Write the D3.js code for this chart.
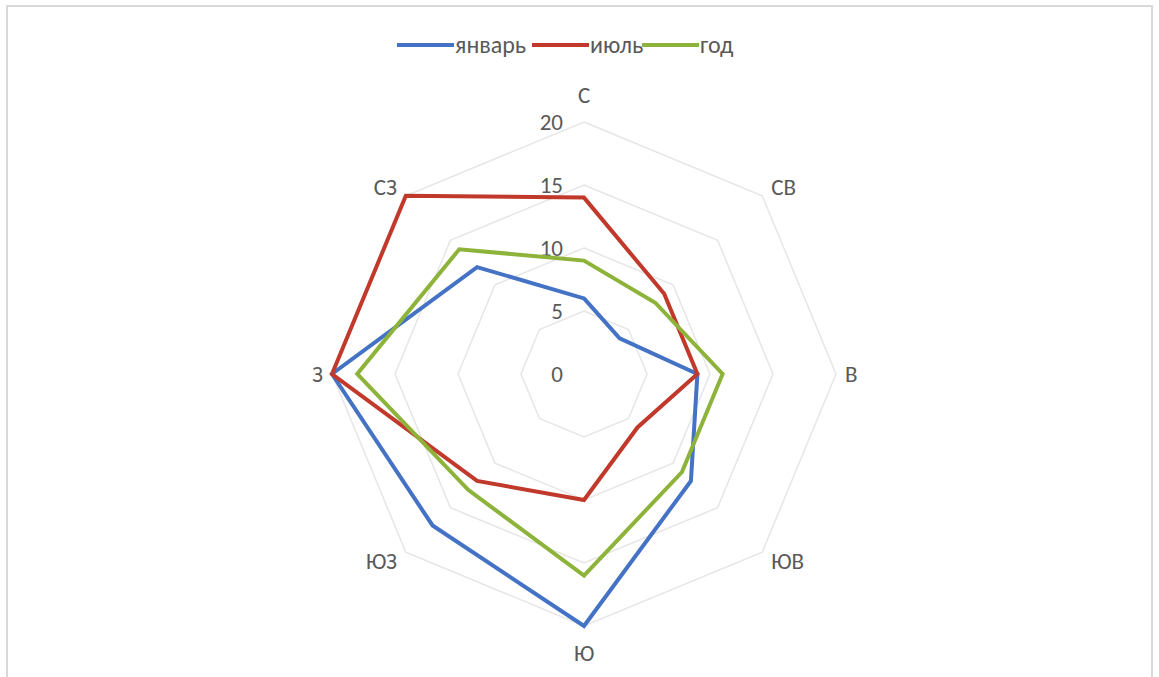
<!DOCTYPE html>
<html>
<head>
<meta charset="utf-8">
<script src="https://cdn.jsdelivr.net/npm/d3@7"></script>
<style>
  body { margin: 0; background: #fff; }
  svg { display: block; font-family: Carlito, Calibri, "Open Sans", "Noto Sans", sans-serif; }
</style>
</head>
<body>
<div id="chart"></div>
<script>
// directions (rumbs) clockwise from north
const directions = ["С", "СВ", "В", "ЮВ", "Ю", "ЮЗ", "З", "СЗ"];
const seriesNames = ["январь", "июль", "год"];
const seriesColors = ["#4472c4", "#c0392b", "#8db33a"];
const january = [6, 4, 9, 12, 20, 17, 20, 12];
const july = [14, 9, 9, 6, 10, 12, 20, 20];
const year = [9, 8, 11, 11, 16, 13, 18, 14];
const gridTicks = [0, 5, 10, 15, 20];

const W = 1159, H = 677;
const cx = 584, cy = 374, R = 252;

const svg = d3.select("#chart").append("svg")
    .attr("width", W)
    .attr("height", H);

// outer frame
svg.append("rect")
    .attr("x", 7).attr("y", 6)
    .attr("width", 1145).attr("height", 690)
    .attr("fill", "#fff")
    .attr("stroke", "#d9d9d9")
    .attr("stroke-width", 2);

const r = d3.scaleLinear().domain([0, 20]).range([0, R]);
const angle = d3.scaleLinear().domain([0, directions.length]).range([0, 2 * Math.PI]);

const g = svg.append("g").attr("transform", `translate(${cx},${cy})`);

// octagon grid rings
const ring = d3.lineRadial()
    .angle((d, i) => angle(i))
    .radius(d => r(d))
    .curve(d3.curveLinearClosed);

g.selectAll("path.grid")
    .data(gridTicks.filter(t => t > 0))
    .join("path")
    .attr("class", "grid")
    .attr("d", t => ring(directions.map(() => t)))
    .attr("fill", "none")
    .attr("stroke", "#e6e6e6")
    .attr("stroke-width", 1.5);

// value axis labels
g.selectAll("text.tick")
    .data(gridTicks)
    .join("text")
    .attr("class", "tick")
    .attr("x", -21)
    .attr("y", t => -r(t))
    .attr("dy", "0.35em")
    .attr("text-anchor", "end")
    .attr("font-size", 23)
    .attr("fill", "#595959")
    .text(t => t);

// direction labels
const sinA = i => Math.sin(angle(i));
const cosA = i => Math.cos(angle(i));
g.selectAll("text.dir")
    .data(directions)
    .join("text")
    .attr("class", "dir")
    .attr("x", (d, i) => sinA(i) * R + (Math.abs(sinA(i)) > 0.1 ? Math.sign(sinA(i)) * 9 : 0))
    .attr("y", (d, i) => -cosA(i) * R - (Math.abs(cosA(i)) > 0.1 ? Math.sign(cosA(i)) * (Math.abs(cosA(i)) > 0.9 ? 27 : 9) : 0))
    .attr("dy", "0.35em")
    .attr("text-anchor", (d, i) => sinA(i) > 0.1 ? "start" : sinA(i) < -0.1 ? "end" : "middle")
    .attr("font-size", 23)
    .attr("fill", "#595959")
    .text(d => d);

// series lines
const seriesData = [january, july, year];
const line = d3.lineRadial()
    .angle((d, i) => angle(i))
    .radius(d => r(d))
    .curve(d3.curveLinearClosed);

g.selectAll("path.series")
    .data(seriesData)
    .join("path")
    .attr("class", "series")
    .attr("d", d => line(d))
    .attr("fill", "none")
    .attr("stroke", (d, i) => seriesColors[i])
    .attr("stroke-width", 4)
    .attr("stroke-linejoin", "miter");

// legend
const legendX = [397, 532, 642];
const legend = svg.append("g").attr("transform", "translate(0,45)");
const items = legend.selectAll("g")
    .data(seriesNames)
    .join("g")
    .attr("transform", (d, i) => `translate(${legendX[i]},0)`);

items.append("line")
    .attr("x1", 0).attr("x2", 57)
    .attr("y1", 0).attr("y2", 0)
    .attr("stroke", (d, i) => seriesColors[i])
    .attr("stroke-width", 4);

items.append("text")
    .attr("x", 58)
    .attr("dy", "0.35em")
    .attr("font-size", 24)
    .attr("fill", "#595959")
    .text(d => d);
</script>
</body>
</html>
